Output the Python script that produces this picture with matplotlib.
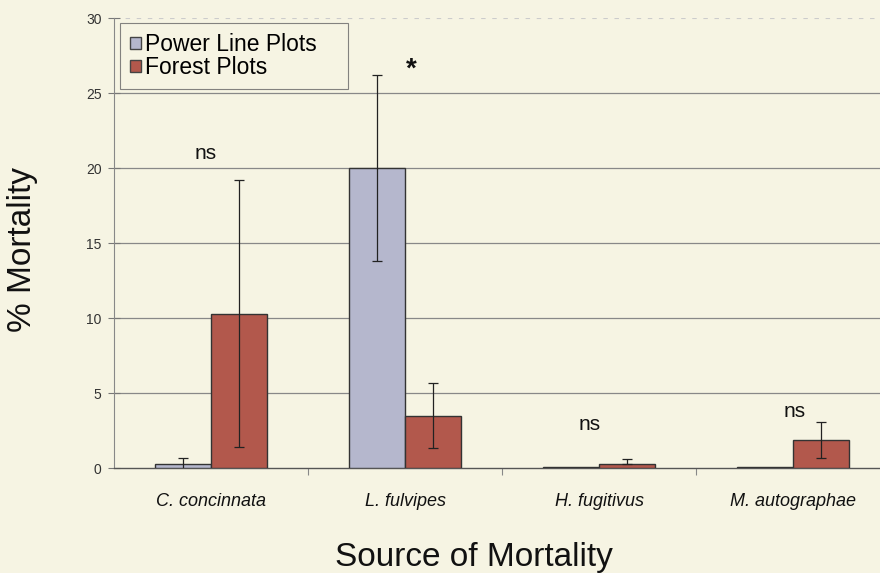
import matplotlib.pyplot as plt
import numpy as np
from matplotlib.patches import Patch

# Data
species = ["C. concinnata", "L. fulvipes", "H. fugitivus", "M. autographae"]
power_vals = [0.3, 20.0, 0.05, 0.05]
power_err = [0.4, 6.2, 0.0, 0.0]
forest_vals = [10.3, 3.5, 0.3, 1.9]
forest_err_lo = [8.9, 2.15, 0.0, 1.2]
forest_err_hi = [8.9, 2.15, 0.3, 1.2]
sig_labels = ["ns", "*", "ns", "ns"]
sig_x = [-0.03, 1.03, 1.95, 3.01]
sig_y = [21.0, 26.6, 2.9, 3.75]

bg = "#f6f4e3"
power_col = "#b5b7cd"
forest_col = "#b2584c"

plt.rcParams["font.family"] = ["Liberation Sans", "DejaVu Sans"]

fig = plt.figure(figsize=(8.8, 5.73), dpi=100, facecolor=bg)
ax = fig.add_axes([0.1295, 0.1832, 0.882, 0.785], facecolor=bg)

x = np.arange(len(species))
w = 0.29

ax.bar(x - w / 2, power_vals, w, color=power_col, edgecolor="#333333",
       linewidth=1.0, zorder=3)
ax.bar(x + w / 2, forest_vals, w, color=forest_col, edgecolor="#333333",
       linewidth=1.0, zorder=3)

pe = [(xx - w / 2, v, e) for xx, v, e in zip(x, power_vals, power_err) if e > 0]
ax.errorbar([p[0] for p in pe], [p[1] for p in pe], yerr=[p[2] for p in pe],
            fmt="none", ecolor="#222222", elinewidth=0.9, capsize=3.5,
            capthick=0.9, zorder=4)
ax.errorbar(x + w / 2, forest_vals, yerr=[forest_err_lo, forest_err_hi],
            fmt="none", ecolor="#222222", elinewidth=0.9, capsize=3.5,
            capthick=0.9, zorder=4)

for sx, sy, s in zip(sig_x, sig_y, sig_labels):
    if s == "*":
        ax.text(sx, sy, s, ha="center", va="center", fontsize=20,
                fontweight="bold", color="#111111")
    else:
        ax.text(sx, sy, s, ha="center", va="center", fontsize=15,
                color="#111111")

ax.set_xlim(-0.5, 3.5)
ax.set_ylim(0, 30)
ax.set_yticks(np.arange(0, 31, 5))
ax.tick_params(axis="y", direction="inout", length=8, width=0.8,
               colors="#777777", labelcolor="#333333", labelsize=10, pad=5)
for yv in np.arange(5, 30, 5):
    ax.axhline(yv, color="#888888", linewidth=0.9, zorder=1)
ax.axhline(30, color="#cccccc", linewidth=0.8, linestyle=(0, (4, 6)), zorder=1)

ax.set_xticks(x)
ax.set_xticklabels(species, fontstyle="italic", fontsize=13, color="#111111")
ax.tick_params(axis="x", length=0, pad=18)
ax.set_xticks(np.arange(0.5, 3.5, 1), minor=True)
ax.tick_params(axis="x", which="minor", direction="out", length=5,
               width=0.8, colors="#888888")

for side in ["top", "right"]:
    ax.spines[side].set_visible(False)
ax.spines["left"].set_color("#888888")
ax.spines["bottom"].set_color("#555555")
ax.spines["bottom"].set_linewidth(1.0)

# axis titles placed on the figure to match the original layout
fig.text(23 / 880, 1 - 249 / 573, "% Mortality", rotation=90, fontsize=24,
         color="#111111", ha="center", va="center")
fig.text(474 / 880, (573 - 566) / 573, "Source of Mortality", fontsize=24,
         color="#111111", ha="center", va="baseline")

handles = [Patch(facecolor=power_col, edgecolor="#444444"),
           Patch(facecolor=forest_col, edgecolor="#444444")]
leg = ax.legend(handles, ["Power Line Plots", "Forest Plots"],
                loc="upper left", bbox_to_anchor=(0.008, 0.5, 0.294, 0.49),
                mode="expand", fontsize=16.5, frameon=True, fancybox=False,
                handlelength=0.45, handleheight=0.45, handletextpad=0.2,
                labelspacing=0.0, borderpad=0.45, borderaxespad=0)
leg.get_frame().set_facecolor(bg)
leg.get_frame().set_edgecolor("#666666")
leg.get_frame().set_linewidth(0.8)
leg.set_zorder(5)

fig.savefig("out.png", dpi=100, facecolor=bg)
